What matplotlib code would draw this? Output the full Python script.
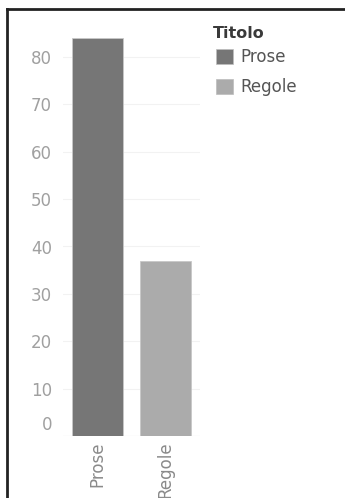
import matplotlib.pyplot as plt
from matplotlib.lines import Line2D
from matplotlib.patches import Patch
from matplotlib.transforms import ScaledTranslation

titoli = ['Prose', 'Regole']
conteggi = [84, 37]
colori = ['#767676', '#ababab']
yticks = [0, 10, 20, 30, 40, 50, 60, 70, 80]

W, H = 345, 498
fig = plt.figure(figsize=(W / 100, H / 100), dpi=100)
fig.patch.set_facecolor('white')

# pane: x 63..200 px, baseline at y=436, 80 at y=57
bottom = 1 - 436 / H
top = 1 - 15 / H
ax = fig.add_axes([63 / W, bottom, (200 - 63) / W, top - bottom])
ymax = 80 * (436 - 15) / (436 - 57)
ax.set_ylim(0, ymax)
ax.set_xlim(-0.5, 1.5)

ax.bar(range(len(titoli)), conteggi, width=0.75, color=colori,
       edgecolor='#c8c8c8', linewidth=0.6, zorder=3)

for s in ax.spines.values():
    s.set_visible(False)
ax.axhline(0, color='#e6e6e6', lw=0.8, zorder=2)
ax.set_yticks(yticks)
ax.yaxis.grid(True, color='#f2f2f2', lw=0.8)
ax.tick_params(axis='y', length=0, labelsize=12, labelcolor='#a0a0a0', pad=8)
ax.set_xticks(range(len(titoli)))
ax.set_xticklabels(titoli, rotation=90, fontsize=12, color='#8a8a8a', va='top')
ax.tick_params(axis='x', length=0, pad=4)

# keep the 0 label inside the pane
zero = ax.get_yticklabels()[0]
zero.set_transform(zero.get_transform() + ScaledTranslation(0, 0.13, fig.dpi_scale_trans))

# legend
fig.text(213 / W, 1 - 33 / H, 'Titolo', fontsize=11.5, color='#3a3a3a',
         fontweight='semibold', va='center', ha='left')
handles = [Patch(facecolor=c, edgecolor='#bdbdbd', linewidth=0.5) for c in colori]
leg = fig.legend(handles, titoli, loc='upper left',
                 bbox_to_anchor=(216 / W, 1 - 48 / H), frameon=False,
                 fontsize=12, handlelength=1.0, handleheight=1.0,
                 handletextpad=0.45, labelspacing=0.75, borderpad=0,
                 borderaxespad=0)
for t in leg.get_texts():
    t.set_color('#555555')

# frame on the left and top edges
fig.add_artist(Line2D([7 / W, 7 / W], [0, 1 - 9 / H], color='#222222', lw=2))
fig.add_artist(Line2D([7 / W, 1], [1 - 9 / H, 1 - 9 / H], color='#222222', lw=2))

fig.savefig('out.png', dpi=100)
